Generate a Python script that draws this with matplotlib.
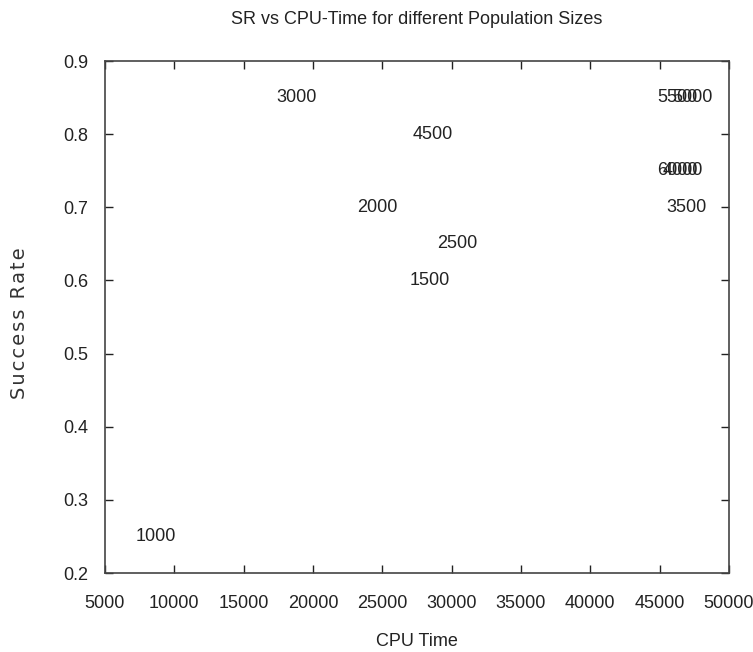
import matplotlib
matplotlib.use("Agg")
import matplotlib.pyplot as plt

# population size, cpu time, success rate
pop_sizes = [1000, 1500, 2000, 2500, 3000, 3500, 4000, 4500, 5000, 5500, 6000]
cpu_time = [8700, 28450, 24650, 30400, 18800, 46900, 46650, 28650, 47350, 46300, 46300]
success_rate = [0.25, 0.60, 0.70, 0.65, 0.85, 0.70, 0.75, 0.80, 0.85, 0.85, 0.75]

xticks = [5000, 10000, 15000, 20000, 25000, 30000, 35000, 40000, 45000, 50000]
yticks = [0.2, 0.3, 0.4, 0.5, 0.6, 0.7, 0.8, 0.9]

plt.rcParams["font.family"] = ["Liberation Sans", "DejaVu Sans"]

fig = plt.figure(figsize=(7.53, 6.52), dpi=100)
ax = fig.add_axes([105 / 753, 1 - 573 / 652, 624 / 753, 512 / 652])

for p, x, y in zip(pop_sizes, cpu_time, success_rate):
    ax.text(x, y, str(p), ha="center", va="center", fontsize=13, color="#222222")

ax.set_xlim(5000, 50000)
ax.set_ylim(0.2, 0.9)
ax.set_xticks(xticks)
ax.set_yticks(yticks)
ax.set_xticklabels([str(t) for t in xticks])
ax.set_yticklabels([f"{t:.1f}" for t in yticks])

ax.tick_params(direction="in", length=6, width=1, top=True, right=True,
               labelsize=13, pad=14, colors="#222222", labelcolor="#222222")
ax.tick_params(axis="x", pad=16)
ax.tick_params(axis="y", pad=12)
for s in ax.spines.values():
    s.set_color("#444444")
    s.set_linewidth(1.2)

ax.set_title("SR vs CPU-Time for different Population Sizes", fontsize=13, pad=27, color="#222222")
ax.set_xlabel("CPU Time", fontsize=13, labelpad=15, color="#222222")
# slightly spaced letters like the original label
ax.set_ylabel("\u200a".join("Success Rate"), fontsize=14, color="#333333",
              family="DejaVu Sans")
ax.yaxis.set_label_coords(-0.122, 0.488)

fig.savefig("out.png", dpi=100)
